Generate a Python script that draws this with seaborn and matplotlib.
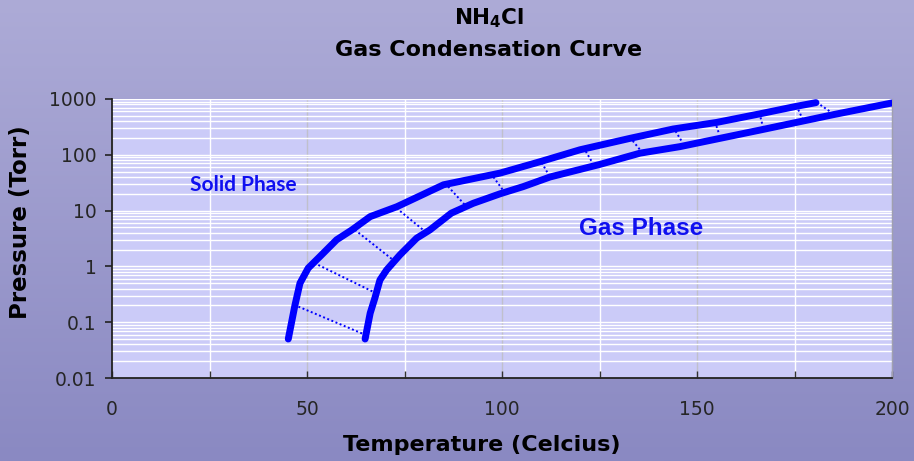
import numpy as np
import pandas as pd
import matplotlib
matplotlib.use("Agg")
import matplotlib.pyplot as plt
import seaborn as sns
from matplotlib.ticker import MultipleLocator, LogLocator, NullFormatter, FixedLocator, FixedFormatter
from matplotlib.colors import LinearSegmentedColormap

# ---------------- data ----------------
solid_T = [45.2, 46.9, 48.2, 50.3, 53.3, 57.6, 61.5, 66.2, 73.0, 85.0, 99.5, 109.7,
           120.0, 132.8, 143.9, 155.0, 166.0, 175.5, 180.5]
solid_P = [0.05, 0.20, 0.50, 0.93, 1.5, 3.0, 4.5, 7.8, 11.7, 29, 47, 75,
           123, 197, 290, 380, 540, 740, 860]

gas_T = [64.9, 66.2, 67.4, 68.7, 70.4, 73.8, 78.1, 81.5, 87.0, 92.6, 99.5, 105.5,
         112.3, 125.0, 135.4, 145.6, 166.2, 185.0, 200.0]
gas_P = [0.05, 0.145, 0.27, 0.57, 0.86, 1.6, 3.2, 4.5, 9.0, 13.5, 20, 27,
         40, 67, 107, 140, 278, 525, 850]

# dotted tie lines: from the solid curve to the gas curve
tie_T_from = [47.8, 52.9, 62.3, 73.0, 85.4, 97.8, 110.2, 120.9, 132.8, 143.9, 154.6, 166.0, 175.5, 180.7]
tie_P_from = [0.19, 1.06, 4.5, 11, 31, 40, 72, 135, 205, 310, 390, 560, 760, 870]
tie_T_to = [64.8, 67.0, 72.1, 79.8, 90.5, 100.3, 112.3, 123.2, 135.4, 146.1, 155.7, 167.0, 177.4, 185.0]
tie_P_to = [0.06, 0.35, 1.3, 4.5, 12.6, 23, 40, 72, 123, 174, 234, 300, 390, 540]

y_ticks = [0.01, 0.1, 1, 10, 100, 1000]
y_tick_labels = ["0.01", "0.1", "1", "10", "100", "1000"]
x_ticks = [0, 50, 100, 150, 200]
x_tick_labels = ["0", "50", "100", "150", "200"]

title_1 = r"NH$_\mathbf{4}$Cl"
title_2 = "Gas Condensation Curve"
x_label = "Temperature (Celcius)"
y_label = "Pressure (Torr)"
solid_label = "Solid Phase"
gas_label = "Gas Phase"

# ---------------- style ----------------
sns.set_style("white")
plt.rcParams["font.family"] = ["DejaVu Sans"]

BLUE = "#0000ff"

fig = plt.figure(figsize=(9.14, 4.61), dpi=100)

# gradient background of the figure
bg = fig.add_axes([0, 0, 1, 1])
bg.set_zorder(0)
cmap = LinearSegmentedColormap.from_list("bg", ["#adabd7", "#8a89c2"])
grad = np.linspace(0, 1, 256).reshape(-1, 1)
bg.imshow(grad, aspect="auto", cmap=cmap, extent=[0, 1, 0, 1], origin="upper")
bg.axis("off")

ax = fig.add_axes([112 / 914, 1 - 378 / 461, 780 / 914, 279 / 461])
ax.set_zorder(1)
ax.set_facecolor("#cbcbf8")

# curves via seaborn
df_solid = pd.DataFrame({"T": solid_T, "P": solid_P})
df_gas = pd.DataFrame({"T": gas_T, "P": gas_P})
n = len(tie_T_from)
df_tie = pd.DataFrame({
    "T": tie_T_from + tie_T_to,
    "P": tie_P_from + tie_P_to,
    "id": list(range(n)) + list(range(n)),
})

sns.lineplot(data=df_tie, x="T", y="P", units="id", estimator=None, sort=False,
             color=BLUE, linewidth=1.4, ax=ax, zorder=3, dashes=False)
for line in ax.get_lines():
    line.set_dashes((1, 1.3))

sns.lineplot(data=df_solid, x="T", y="P", sort=False, estimator=None, color=BLUE,
             linewidth=5.0, ax=ax, zorder=4, solid_capstyle="round", solid_joinstyle="round")
sns.lineplot(data=df_gas, x="T", y="P", sort=False, estimator=None, color=BLUE,
             linewidth=5.0, ax=ax, zorder=4, solid_capstyle="round", solid_joinstyle="round")

ax.set_yscale("log")
ax.set_xlim(0, 200)
ax.set_ylim(0.01, 1000)

# grid
ax.yaxis.set_major_locator(FixedLocator(y_ticks))
ax.yaxis.set_major_formatter(FixedFormatter(y_tick_labels))
ax.yaxis.set_minor_locator(LogLocator(base=10, subs=np.arange(2, 10)))
ax.yaxis.set_minor_formatter(NullFormatter())
ax.xaxis.set_major_locator(FixedLocator(x_ticks))
ax.xaxis.set_major_formatter(FixedFormatter(x_tick_labels))
ax.xaxis.set_minor_locator(MultipleLocator(25))

ax.grid(True, which="both", axis="y", color="white", linewidth=1.0, zorder=1)
ax.grid(True, which="major", axis="x", color="#c0c0cc", linewidth=1.0)
ax.grid(True, which="minor", axis="x", color="white", linewidth=1.0)
ax.set_axisbelow(True)

ax.tick_params(axis="y", which="major", direction="out", length=5, width=1.2,
               color="#222222", labelsize=13.5, pad=6, left=True)
ax.tick_params(axis="y", which="minor", length=0)
ax.tick_params(axis="x", which="both", direction="in", length=5, width=1.0,
               color="#333333", bottom=True)
ax.tick_params(axis="x", which="major", labelsize=13.5, pad=16)

for s in ["left", "bottom"]:
    ax.spines[s].set_color("#222222")
    ax.spines[s].set_linewidth(1.3)
ax.spines["top"].set_visible(False)
ax.spines["right"].set_color("#a0a0b0")
ax.spines["right"].set_linewidth(1.0)

ax.set_xlabel(x_label, fontsize=16, fontweight="bold", color="black")
ax.set_ylabel(y_label, fontsize=16.5, fontweight="bold", color="black")
ax.xaxis.label.set_va("center")
ax.yaxis.label.set_va("center")
ax.xaxis.set_label_coords((482 - 112) / 780, (378 - 445) / 279)
ax.yaxis.set_label_coords((21 - 112) / 780, (378 - 222) / 279)

# phase labels
ax.text(33.6, 29, solid_label, color="#1010f0", fontsize=15, fontweight="bold",
        family=["Lato", "DejaVu Sans"], ha="center", va="center", zorder=5)
ax.text(135.6, 4.7, gas_label, color="#1010f0", fontsize=17.5, fontweight="bold",
        family=["Liberation Sans", "DejaVu Sans"], ha="center", va="center", zorder=5)

# titles
fig.text(489 / 914, 1 - 18 / 461, title_1, ha="center", va="center", fontsize=15.5,
         fontweight="bold", color="black")
fig.text(489 / 914, 1 - 50 / 461, title_2, ha="center", va="center", fontsize=16,
         fontweight="bold", color="black")

fig.savefig("out.png", dpi=100)
